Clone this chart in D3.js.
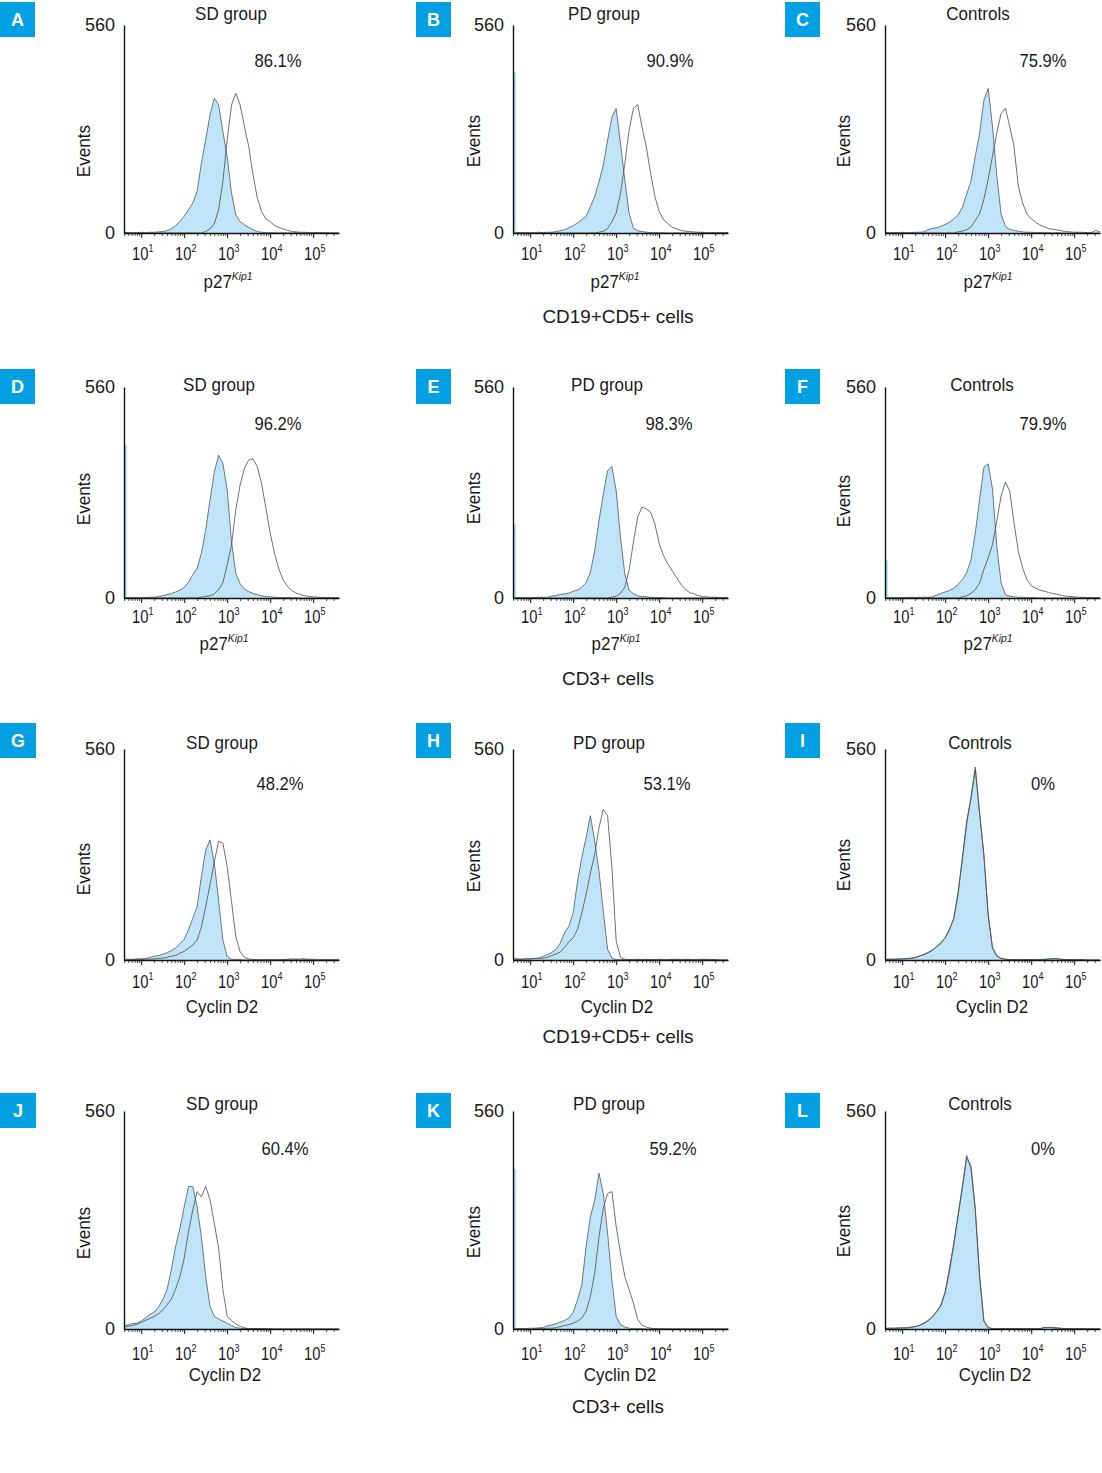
<!DOCTYPE html>
<html>
<head>
<meta charset="utf-8">
<script src="https://cdnjs.cloudflare.com/ajax/libs/d3/7.8.5/d3.min.js"></script>
<style>
  body { margin: 0; background: #fff; }
  svg text { font-family: "Liberation Sans", Arial, sans-serif; fill: #1a1a1a; }
</style>
</head>
<body>
<div id="chart"></div>
<script>
// fluorescence channels (log10 of intensity), shared by every histogram
var channelLog = [0.6,0.7,0.8,0.9,1.0,1.1,1.2,1.3,1.4,1.5,1.6,1.7,1.8,1.9,2.0,2.1,2.2,2.3,2.4,2.5,
  2.6,2.7,2.8,2.9,3.0,3.1,3.2,3.3,3.4,3.5,3.6,3.7,3.8,3.9,4.0,4.1,4.2,4.3,4.4,4.5,
  4.6,4.7,4.8,4.9,5.0,5.1,5.2,5.3,5.4,5.5,5.6];

var panelLetters = ["A","B","C","D","E","F","G","H","I","J","K","L"];
var groupTitles = ["SD group","PD group","Controls"];
var percentLabels = ["86.1%","90.9%","75.9%","96.2%","98.3%","79.9%","48.2%","53.1%","0%","60.4%","59.2%","0%"];
var markerRows = ["p27","p27","Cyclin D2","Cyclin D2"];
var cellRows = ["CD19+CD5+ cells","CD3+ cells","CD19+CD5+ cells","CD3+ cells"];
var decadeTicks = [10,100,1000,10000,100000];
var decadeExp = ["1","2","3","4","5"];
var eventTicks = [0,560];

// filled (isotype) histograms
var isoA = [1,1,1,1,2,1,2,2,3,4,6,11,20,31,45,63,81,112,188,251,318,363,345,273,206,108,49,31,22,15,9,4,2,1,1,1,0,1,0,0,1,0,0,0,0,0,0,0,0,0,0];
var isoB = [1,1,1,1,1,1,2,1,2,2,4,6,9,14,20,27,36,45,71,98,138,183,250,312,335,241,143,54,13,6,4,2,1,1,1,1,0,0,1,0,0,0,0,0,0,0,0,0,0,0,0];
var isoC = [1,1,1,1,2,1,1,2,2,3,9,12,14,18,23,29,38,49,69,105,140,207,269,358,389,287,154,51,18,10,7,5,3,2,2,1,1,1,1,0,1,0,0,0,0,0,0,0,0,0,0];
var isoD = [1,1,1,1,1,1,2,2,4,6,9,12,16,21,28,42,62,79,119,181,260,335,379,357,287,150,66,38,24,17,12,9,6,4,3,2,1,1,1,1,0,0,0,0,0,0,0,0,0,0,0];
var isoE = [1,1,1,1,1,1,2,2,2,5,7,9,11,13,18,21,28,41,68,126,206,276,338,349,285,161,64,21,11,6,4,3,2,1,1,1,0,0,0,0,0,0,0,0,0,0,0,0,0,0,0];
var isoF = [1,1,1,1,1,1,2,1,2,2,2,3,8,12,16,20,26,36,49,67,102,173,262,347,356,289,138,40,9,5,3,2,2,1,1,1,0,0,0,0,0,0,0,0,0,0,0,0,0,0,0];
var isoG = [2,2,2,3,3,4,7,10,12,15,19,25,32,43,55,80,111,142,222,292,319,257,159,53,9,2,1,1,0,0,0,0,0,0,0,0,0,1,1,0,1,0,1,0,0,0,0,0,0,0,0];
var isoH = [3,3,2,3,3,4,5,10,14,20,28,45,72,90,125,209,272,325,383,316,236,130,28,5,1,1,1,1,1,1,1,2,1,1,1,1,1,2,1,1,2,1,1,1,1,2,1,1,0,0,0];
var isoI = [2,2,2,3,3,4,5,7,11,14,19,25,34,44,60,82,109,175,273,370,427,505,388,281,122,34,12,4,2,1,1,1,1,1,1,1,1,2,3,4,3,2,1,1,1,1,1,0,0,0,0];
var isoJ = [9,11,14,15,20,28,37,43,56,75,101,152,212,259,314,366,366,314,237,135,58,32,26,20,15,9,4,2,1,1,1,1,1,0,0,0,0,0,0,0,0,0,0,0,0,0,0,0,0,0,0];
var isoK = [1,1,1,1,2,2,3,4,8,10,14,18,22,28,43,75,114,212,289,331,400,348,246,126,32,11,5,2,1,1,1,0,0,0,0,0,0,0,0,0,0,0,0,0,0,0,0,0,0,0,0];
var isoL = [2,2,2,3,3,3,5,6,10,15,22,32,45,62,97,157,222,295,368,446,411,303,131,19,3,1,1,1,1,1,1,1,1,1,1,1,1,4,4,3,2,1,1,1,1,1,1,1,1,1,1];

// open (antibody stained) histograms
var stainA = [0,0,0,0,0,0,0,0,0,0,0,0,0,0,0,0,0,0,0,4,11,25,63,139,251,345,376,345,287,233,157,94,58,38,30,21,15,11,7,4,3,2,2,1,1,1,1,1,0,0,0];
var stainB = [0,0,0,0,0,0,0,0,0,0,0,0,0,0,0,0,0,0,0,0,2,5,12,31,54,107,187,277,335,346,285,232,161,98,58,36,25,16,11,7,5,4,3,2,2,1,1,1,1,1,1];
var stainC = [0,0,0,0,0,0,0,0,0,0,0,0,0,0,0,0,0,3,5,9,16,34,51,91,145,207,269,322,336,287,233,127,81,51,38,29,22,17,12,10,8,6,4,3,2,2,2,1,1,7,3];
var stainD = [0,0,0,0,0,0,0,0,0,0,0,0,0,0,0,0,0,0,2,4,6,11,22,41,88,141,234,300,344,366,370,348,304,238,172,119,77,49,31,20,13,9,6,4,3,2,1,1,1,1,1];
var stainE = [0,0,0,0,0,0,0,0,0,0,0,0,0,0,0,0,0,0,0,0,0,0,0,2,5,13,28,73,148,215,241,237,228,197,144,113,90,73,55,37,24,15,11,7,4,3,2,2,1,1,1];
var stainF = [0,0,0,0,0,0,0,0,0,0,0,0,0,0,0,0,0,0,3,6,12,22,40,76,107,142,204,271,308,284,200,124,80,49,33,26,21,18,15,12,10,7,5,4,3,2,2,1,1,1,1];
var stainG = [0,0,1,1,1,2,2,3,4,5,7,10,12,18,23,31,40,53,87,142,199,261,315,310,248,155,62,22,7,3,1,1,1,1,1,1,1,1,2,3,2,3,3,2,2,1,1,1,1,1,1];
var stainH = [2,2,2,3,3,4,4,5,7,12,16,21,34,48,59,81,125,174,231,280,351,400,383,245,50,7,2,1,1,2,1,1,1,1,2,1,1,1,2,1,1,2,1,1,2,1,1,1,0,0,0];
var stainI = [1,2,2,2,3,3,4,6,10,15,20,27,36,46,58,80,112,180,268,360,435,512,392,276,118,30,10,4,2,1,1,1,1,1,1,1,1,1,2,3,3,2,1,1,1,1,1,0,0,0,0];
var stainJ = [5,7,9,12,17,22,27,32,39,48,62,77,102,135,182,250,306,353,340,366,332,272,208,101,32,22,13,7,3,1,1,1,1,1,1,0,0,0,0,0,0,0,0,0,0,0,0,0,0,0,0];
var stainK = [0,0,0,0,0,1,1,1,2,2,3,6,9,11,15,20,28,45,84,143,237,310,348,353,263,195,135,101,67,24,10,5,2,1,1,1,0,0,0,0,0,0,0,0,0,0,0,0,0,0,0];
var stainL = [1,2,2,2,3,3,4,6,9,14,21,30,44,60,92,150,215,290,362,440,420,310,140,22,4,1,1,1,1,1,1,1,1,1,1,1,1,3,4,4,3,2,1,1,1,1,1,0,0,0,0];

// events piled in the first channel (edge spike of the filled histogram)
var firstChannelIso = [0,433,0,406,195,100,0,0,0,0,411,0];

var isoSeries = [isoA,isoB,isoC,isoD,isoE,isoF,isoG,isoH,isoI,isoJ,isoK,isoL];
var stainSeries = [stainA,stainB,stainC,stainD,stainE,stainF,stainG,stainH,stainI,stainJ,stainK,stainL];

// layout
var colX = [124, 513, 885];
var rowTop = [25, 387, 749, 1111];
var rowBase = [233, 598, 960, 1329];
var plotW = 215;
var logMin = 0.6, logMax = 5.6;
var boxX = [0, 416, 785], boxY = [2, 369, 723, 1093];
var titleX = [231,604,978, 219,607,982, 222,609,980, 222,609,980];
var titleDy = [-5, 4, 0, -1];
var pctX = [278,670,1043, 278,669,1043, 280,667,1043, 285,673,1043];
var pctDy = [42, 43, 41, 44];
var tickDy = [27, 25, 28, 31];
var markerX = [228,615,988, 224,616,988, 222,617,992, 225,620,995];
var markerDy = [55, 52, 53, 52];
var cellX = [618, 608, 618, 618];
var cellDy = [90, 87, 83, 84];
var eventsX = [90, 480, 850];
var eventsY = [[151,141,141],[499,498,501],[869,866,865],[1233,1232,1231]];

var svg = d3.select("#chart").append("svg")
  .attr("width", 1102)
  .attr("height", 1473);

function addText(g, x, y, str, size, sx, anchor){
  return g.append("text")
    .attr("transform", "translate(" + x + "," + y + ") scale(" + sx + ",1)")
    .attr("text-anchor", anchor || "middle")
    .style("font-size", size + "px")
    .text(str);
}

panelLetters.forEach(function(letter, k){
  var row = Math.floor(k / 3), col = k % 3;
  var x0 = colX[col], T = rowTop[row], B = rowBase[row];

  var x = d3.scaleLog().domain([Math.pow(10, logMin), Math.pow(10, logMax)]).range([x0, x0 + plotW]);
  var y = d3.scaleLinear().domain([0, eventTicks[1]]).range([B, T]);
  var g = svg.append("g").attr("class", "panel panel" + letter);

  function pts(series){
    return series.map(function(v, i){ return [Math.pow(10, channelLog[i]), v]; });
  }
  var area = d3.area().x(function(d){ return x(d[0]); }).y0(y(0)).y1(function(d){ return y(d[1]); });
  var line = d3.line().x(function(d){ return x(d[0]); }).y(function(d){ return y(d[1]); });

  // filled histogram
  g.append("path").datum(pts(isoSeries[k]))
    .attr("d", area).attr("fill", "#bfe3f7").attr("stroke", "none");
  g.append("path").datum(pts(isoSeries[k]))
    .attr("d", line).attr("fill", "none").attr("stroke", "#36454f").attr("stroke-width", 0.7);
  if(firstChannelIso[k] > 0){
    g.append("line")
      .attr("x1", x0 + 1.5).attr("x2", x0 + 1.5)
      .attr("y1", y(0)).attr("y2", y(firstChannelIso[k]))
      .attr("stroke", "#8fcff0").attr("stroke-width", 2);
  }
  // open histogram
  g.append("path").datum(pts(stainSeries[k]))
    .attr("d", line).attr("fill", "none").attr("stroke", "#4d4d4d").attr("stroke-width", 0.8);

  // x axis: decade ticks + minor ticks
  var minor = x.ticks().filter(function(v){ return decadeTicks.indexOf(v) < 0; });
  var xMinor = g.append("g").attr("transform", "translate(0," + B + ")")
    .call(d3.axisBottom(x).tickValues(minor).tickSize(3).tickSizeOuter(0).tickFormat(""));
  xMinor.select(".domain").remove();
  xMinor.selectAll("line").attr("stroke", "#222").attr("stroke-width", 0.8);
  var xAx = g.append("g").attr("transform", "translate(0," + B + ")")
    .call(d3.axisBottom(x).tickValues(decadeTicks).tickSize(5).tickSizeOuter(0).tickFormat(""));
  xAx.select(".domain").attr("stroke", "#111").attr("stroke-width", 1.4);
  xAx.selectAll(".tick line").attr("stroke", "#111").attr("stroke-width", 1);
  xAx.selectAll(".tick").each(function(d, i){
    var t = d3.select(this).append("text")
      .attr("transform", "translate(1," + tickDy[row] + ") scale(0.82,1)")
      .attr("text-anchor", "middle")
      .style("font-size", "18px");
    t.append("tspan").text("10");
    t.append("tspan").attr("dy", -8).style("font-size", "11px").text(decadeExp[i]);
  });

  // y axis: plain line with 0 and 560
  var yAx = g.append("g").attr("transform", "translate(" + x0 + ",0)")
    .call(d3.axisLeft(y).tickValues(eventTicks).tickSize(0).tickSizeOuter(0).tickPadding(9));
  yAx.select(".domain").attr("stroke", "#111").attr("stroke-width", 1.4);
  yAx.selectAll(".tick text").style("font-size", "18px").attr("fill", "#1a1a1a")
    .style("font-family", "'Liberation Sans', Arial, sans-serif");

  // labels
  addText(g, eventsX[col], eventsY[row][col], "Events", 18, 1, "middle")
    .attr("transform", "translate(" + eventsX[col] + "," + eventsY[row][col] + ") rotate(-90) scale(0.95,1)");
  addText(g, titleX[k], T + titleDy[row], groupTitles[col], 18.5, 0.92);
  addText(g, pctX[k], T + pctDy[row], percentLabels[k], 17.5, 0.95);

  var mk = addText(g, markerX[k], B + markerDy[row], "", 18, 0.94);
  mk.append("tspan").text(markerRows[row]);
  if(markerRows[row] === "p27"){
    mk.append("tspan").attr("dy", -8).style("font-size", "11px").style("font-style", "italic").text("Kip1");
  }

  // panel letter box
  g.append("rect").attr("x", boxX[col]).attr("y", boxY[row])
    .attr("width", col === 0 && row > 1 ? 36 : 35).attr("height", 35)
    .attr("fill", "#00a0e3");
  g.append("text")
    .attr("x", boxX[col] + (col === 0 && row > 1 ? 18 : 17.5)).attr("y", boxY[row] + 24)
    .attr("text-anchor", "middle")
    .style("font-size", "18px").style("font-weight", "bold").style("fill", "#fff")
    .text(letter);

  if(col === 1){
    addText(g, cellX[row], B + cellDy[row], cellRows[row], 18, 1.05);
  }
});
</script>
</body>
</html>
